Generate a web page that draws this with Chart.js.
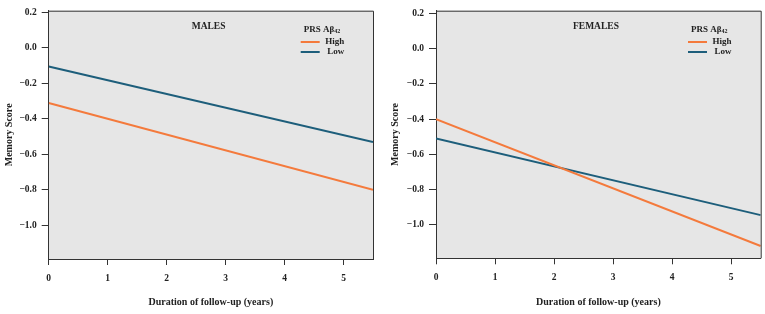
<!DOCTYPE html>
<html><head><meta charset="utf-8">
<script src="https://cdn.jsdelivr.net/npm/chart.js@4/dist/chart.umd.min.js"></script>
<style>
html,body{margin:0;padding:0;background:#fff;}
#wrap{position:relative;width:765px;height:314px;}
canvas{position:absolute;top:0;}
</style></head>
<body><div id="wrap"><canvas id="m" width="380" height="314" style="left:0"></canvas><canvas id="f" width="385" height="314" style="left:380px"></canvas></div>
<script>
// follow-up years (line end points)
const years = [0, 5.5];
const xTicks = [0, 1, 2, 3, 4, 5];
const yTicks = [-1.0, -0.8, -0.6, -0.4, -0.2, 0.0, 0.2];
// Memory score, males
const malesHigh = [-0.31, -0.80];
const malesLow = [-0.105, -0.53];
// Memory score, females
const femalesHigh = [-0.40, -1.12];
const femalesLow = [-0.51, -0.945];
const seriesNames = ['High', 'Low'];
const legendTitle = 'PRS A\u03b2';
const legendSub = '42';

const ORANGE = '#F47A3C', BLUE = '#1D5E7B';
const FONT = '"Liberation Serif", "DejaVu Serif", serif';

const deco = {
  id: 'deco',
  beforeDraw(chart) {
    const {ctx, chartArea: a} = chart;
    ctx.save();
    ctx.fillStyle = '#e6e6e6';
    ctx.fillRect(a.left, a.top, a.right - a.left, a.bottom - a.top);
    ctx.restore();
  },
  afterDraw(chart, args, o) {
    const {ctx, chartArea: a} = chart;
    ctx.save();
    ctx.strokeStyle = '#333'; ctx.lineWidth = 1;
    ctx.beginPath();
    ctx.moveTo(a.left, a.top + 0.5); ctx.lineTo(a.right + 0.5, a.top + 0.5); ctx.lineTo(a.right + 0.5, a.bottom);
    ctx.stroke();
    ctx.fillStyle = '#222';
    ctx.textBaseline = 'middle';
    ctx.font = 'bold 9.5px ' + FONT;
    ctx.textAlign = 'left';
    ctx.fillText(o.title, a.left + o.titleDx, a.top + 16);
    // legend
    const lx = a.left + 252;
    ctx.font = 'bold 9px ' + FONT;
    ctx.fillText(legendTitle, lx + 3, 29.5);
    const w = ctx.measureText(legendTitle).width;
    ctx.font = 'bold 6px ' + FONT;
    ctx.fillText(legendSub, lx + 3 + w, 31.5);
    ctx.font = 'bold 9px ' + FONT;
    ctx.textAlign = 'right';
    const ys = [42, 52];
    chart.data.datasets.forEach((d, i) => {
      ctx.strokeStyle = d.borderColor; ctx.lineWidth = 2;
      ctx.beginPath(); ctx.moveTo(lx, ys[i]); ctx.lineTo(lx + 19, ys[i]); ctx.stroke();
      ctx.fillText(d.label, a.left + 295.5, ys[i]);
    });
    ctx.restore();
  }
};

function fmt(v) {
  const s = Math.abs(v).toFixed(1);
  return v < -1e-9 ? '\u2212' + s : s;
}

function make(id, high, low, title, titleDx, pad, yW, xH, yTitlePad, ymax) {
  new Chart(document.getElementById(id), {
    type: 'line',
    data: {
      datasets: [
        {label: seriesNames[0], data: years.map((x, i) => ({x, y: high[i]})), borderColor: ORANGE, borderWidth: 2, pointRadius: 0, fill: false},
        {label: seriesNames[1], data: years.map((x, i) => ({x, y: low[i]})), borderColor: BLUE, borderWidth: 2, pointRadius: 0, fill: false}
      ]
    },
    options: {
      responsive: false, animation: false, devicePixelRatio: 1,
      layout: {padding: pad},
      plugins: {legend: {display: false}, tooltip: {enabled: false}, deco: {title, titleDx}},
      scales: {
        x: {
          type: 'linear', min: years[0], max: years[1],
          afterBuildTicks: s => { s.ticks = xTicks.map(v => ({value: v})); },
          afterFit: s => { s.height = xH; },
          grid: {drawOnChartArea: false, drawTicks: true, tickLength: 6, color: '#333'},
          border: {display: true, color: '#333', width: 1},
          ticks: {color: '#222', font: {family: FONT, size: 9.5, weight: 'bold'}, padding: 8, maxRotation: 0},
          title: {display: true, text: 'Duration of follow-up (years)', color: '#222', font: {family: FONT, size: 10, weight: 'bold'}, padding: {top: 0, bottom: 6}}
        },
        y: {
          type: 'linear', min: -1.19, max: ymax,
          afterBuildTicks: s => { s.ticks = yTicks.map(v => ({value: v})); },
          afterFit: s => { s.width = yW; },
          grid: {drawOnChartArea: false, drawTicks: true, tickLength: 7, color: '#333'},
          border: {display: true, color: '#333', width: 1},
          ticks: {color: '#222', font: {family: FONT, size: 9.5, weight: 'bold'}, padding: 5, callback: v => fmt(v)},
          title: {display: true, text: 'Memory Score', color: '#222', font: {family: FONT, size: 10, weight: 'bold'}, padding: {top: yTitlePad, bottom: 0}}
        }
      }
    },
    plugins: [deco]
  });
}

make('m', malesHigh, malesLow, 'MALES', 143, {left: 0, right: 7, top: 9.3, bottom: 0}, 48.7, 55, 3, 0.21);
make('f', femalesHigh, femalesLow, 'FEMALES', 137, {left: 0, right: 4.3, top: 7.5, bottom: 0}, 56, 55.7, 9, 0.215);
</script></body></html>
